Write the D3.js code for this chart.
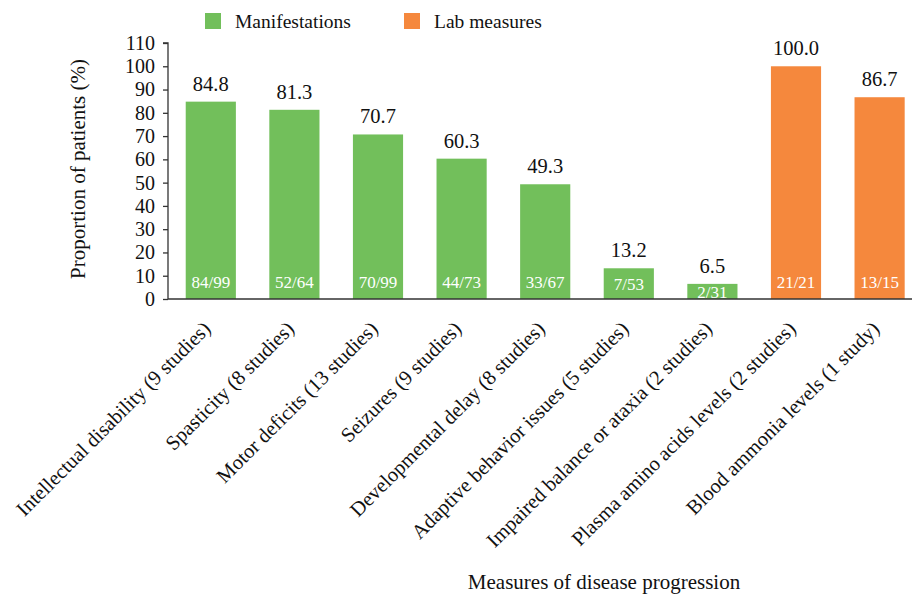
<!DOCTYPE html>
<html>
<head>
<meta charset="utf-8">
<script src="https://cdn.jsdelivr.net/npm/d3@7"></script>
<style>
  html, body { margin: 0; padding: 0; background: #fff; }
  svg { display: block; font-family: "Liberation Serif", "Times New Roman", serif; }
</style>
</head>
<body>
<svg id="chart" width="912" height="594"></svg>
<script>
// Measures of disease progression and the share of patients showing each
const categories = [
  "Intellectual disability (9 studies)",
  "Spasticity (8 studies)",
  "Motor deficits (13 studies)",
  "Seizures (9 studies)",
  "Developmental delay (8 studies)",
  "Adaptive behavior issues (5 studies)",
  "Impaired balance or ataxia (2 studies)",
  "Plasma amino acids levels (2 studies)",
  "Blood ammonia levels (1 study)"
];
const values = [84.8, 81.3, 70.7, 60.3, 49.3, 13.2, 6.5, 100.0, 86.7];
const counts = ["84/99", "52/64", "70/99", "44/73", "33/67", "7/53", "2/31", "21/21", "13/15"];
const groups = ["Manifestations", "Manifestations", "Manifestations", "Manifestations",
  "Manifestations", "Manifestations", "Manifestations", "Lab measures", "Lab measures"];
const legendKeys = ["Manifestations", "Lab measures"];
const yTicks = [0, 10, 20, 30, 40, 50, 60, 70, 80, 90, 100, 110];

const colors = { "Manifestations": "#72BF5B", "Lab measures": "#F5883D" };

const svg = d3.select("#chart");
const x0 = 168, yBase = 299, yTop = 43;

const x = d3.scaleBand().domain(categories).range([x0 + 1, x0 + 1 + 9 * 83.6]).paddingInner(0.4).paddingOuter(0.2);
const y = d3.scaleLinear().domain([0, 110]).range([yBase, yTop]);

const data = categories.map((c, i) => ({ cat: c, v: values[i], n: counts[i], g: groups[i] }));

// bars
svg.append("g").selectAll("rect").data(data).join("rect")
  .attr("x", d => x(d.cat))
  .attr("y", d => y(d.v))
  .attr("width", x.bandwidth())
  .attr("height", d => y(0) - y(d.v))
  .attr("fill", d => colors[d.g]);

// value labels above bars
svg.append("g").selectAll("text").data(data).join("text")
  .attr("x", d => x(d.cat) + x.bandwidth() / 2)
  .attr("y", d => y(d.v) - 11)
  .attr("text-anchor", "middle")
  .attr("font-size", 20.5)
  .attr("fill", "#111")
  .text(d => d.v.toFixed(1));

// patient counts inside bars, kept near the base (centred in short bars)
svg.append("g").selectAll("text").data(data).join("text")
  .attr("x", d => x(d.cat) + x.bandwidth() / 2)
  .attr("y", d => Math.max(yBase - 17.5, (y(d.v) + yBase) / 2) + 6.5)
  .attr("text-anchor", "middle")
  .attr("font-size", 17)
  .attr("fill", "#fff")
  .text(d => d.n);

// y axis
const yAxis = d3.axisLeft(y).tickValues(yTicks).tickSize(5).tickPadding(8);
const gy = svg.append("g").attr("transform", `translate(${x0},0)`).call(yAxis);
gy.select(".domain").attr("stroke", "#333").attr("stroke-width", 1.3).attr("d", `M-5,${yTop}H0V${yBase}`);
gy.selectAll(".tick line").attr("stroke", "#333").attr("stroke-width", 1.3);
gy.selectAll(".tick text").attr("font-size", 20).attr("fill", "#111")
  .attr("font-family", "Liberation Serif, serif");

// x axis baseline and rotated category labels
const xAxis = d3.axisBottom(x).tickSize(0).tickPadding(0);
const gx = svg.append("g").attr("transform", `translate(0,${yBase})`).call(xAxis);
gx.select(".domain").attr("stroke", "#333").attr("stroke-width", 1.5).attr("d", `M${x0},0H912`);
gx.selectAll(".tick text")
  .attr("font-size", 20.5)
  .attr("fill", "#111")
  .attr("font-family", "Liberation Serif, serif")
  .attr("text-anchor", "end")
  .attr("dy", null)
  .attr("transform", "translate(1,31) rotate(-45)");

// axis titles
svg.append("text")
  .attr("x", 604).attr("y", 589)
  .attr("text-anchor", "middle").attr("font-size", 21).attr("fill", "#111")
  .text("Measures of disease progression");

svg.append("text")
  .attr("transform", "translate(85,169) rotate(-90)")
  .attr("text-anchor", "middle").attr("font-size", 21).attr("fill", "#111")
  .text("Proportion of patients (%)");

// legend
const legendX = [205, 404];
const lg = svg.append("g").selectAll("g").data(legendKeys).join("g")
  .attr("transform", (d, i) => `translate(${legendX[i]},13)`);
lg.append("rect").attr("width", 16).attr("height", 16).attr("fill", d => colors[d]);
lg.append("text").attr("x", 30).attr("y", 15).attr("font-size", 19.5).attr("fill", "#111").text(d => d);
</script>
</body>
</html>
